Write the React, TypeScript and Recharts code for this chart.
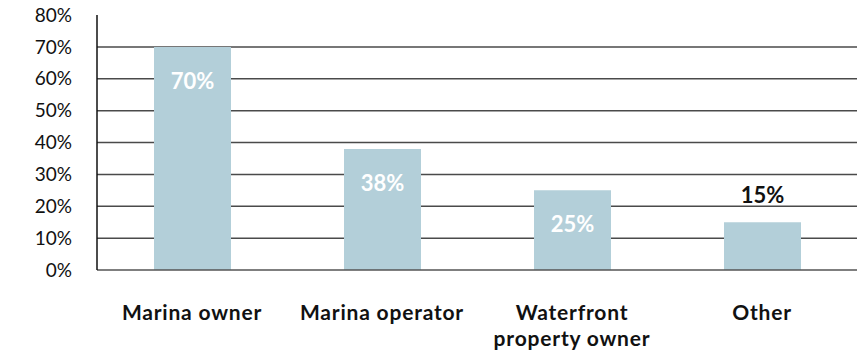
import { Bar, BarChart, CartesianGrid, LabelList, XAxis, YAxis } from 'recharts'

const categories = ['Marina owner', 'Marina operator', 'Waterfront property owner', 'Other']
const shares = [70, 38, 25, 15]
const yTicks = [0, 10, 20, 30, 40, 50, 60, 70, 80]
const gridValues = [10, 20, 30, 40, 50, 60, 70]

const data = categories.map((name, i) => ({ name, value: shares[i] }))

const FONT = 'Lato, "Open Sans", sans-serif'

// greedy word wrap by character count
function wrap(label: string, maxChars = 16) {
  const lines: string[] = []
  let cur = ''
  for (const w of label.split(' ')) {
    const next = cur ? cur + ' ' + w : w
    if (next.length > maxChars && cur) {
      lines.push(cur)
      cur = w
    } else {
      cur = next
    }
  }
  if (cur) lines.push(cur)
  return lines
}

const CategoryTick = ({ x, y, payload }: any) => (
  <text
    x={x}
    y={y}
    textAnchor="middle"
    style={{ fontFamily: FONT, fontSize: 21, fontWeight: 700, fill: '#111', letterSpacing: 0.8 }}
  >
    {wrap(payload.value).map((line, i) => (
      <tspan key={i} x={x} dy={i === 0 ? 42 : 26}>
        {line}
      </tspan>
    ))}
  </text>
)

const ValueLabel = ({ x, y, width, value }: any) => {
  const outside = value < 20
  return (
    <text
      x={x + width / 2}
      y={outside ? y - 25 : y + 36}
      textAnchor="middle"
      dominantBaseline="middle"
      style={{ fontFamily: FONT, fontSize: 22, fontWeight: 700, fill: outside ? '#111' : '#fff' }}
    >
      {value}%
    </text>
  )
}

export default function App() {
  return (
    <div style={{ position: 'absolute', left: 0, top: 0, background: '#fff' }}>
      <BarChart
        width={867}
        height={350}
        data={data}
        margin={{ top: 15, right: 10, bottom: 0, left: 0 }}
      >
        <CartesianGrid
          vertical={false}
          horizontalValues={gridValues}
          stroke="#4a4a4a"
          strokeWidth={1.5}
        />
        <XAxis
          dataKey="name"
          axisLine={{ stroke: '#555', strokeWidth: 1.5 }}
          tickLine={false}
          tick={<CategoryTick />}
          height={80}
          interval={0}
        />
        <YAxis
          domain={[0, 80]}
          ticks={yTicks}
          tickFormatter={(v: number) => `${v}%`}
          axisLine={{ stroke: '#111', strokeWidth: 1.5 }}
          tickLine={false}
          tickSize={0}
          tickMargin={25}
          width={97}
          tick={{ fontFamily: FONT, fontSize: 19, fill: '#111' }}
        />
        <Bar dataKey="value" fill="#b3cfd9" barSize={77} isAnimationActive={false}>
          <LabelList dataKey="value" content={<ValueLabel />} />
        </Bar>
      </BarChart>
    </div>
  )
}
